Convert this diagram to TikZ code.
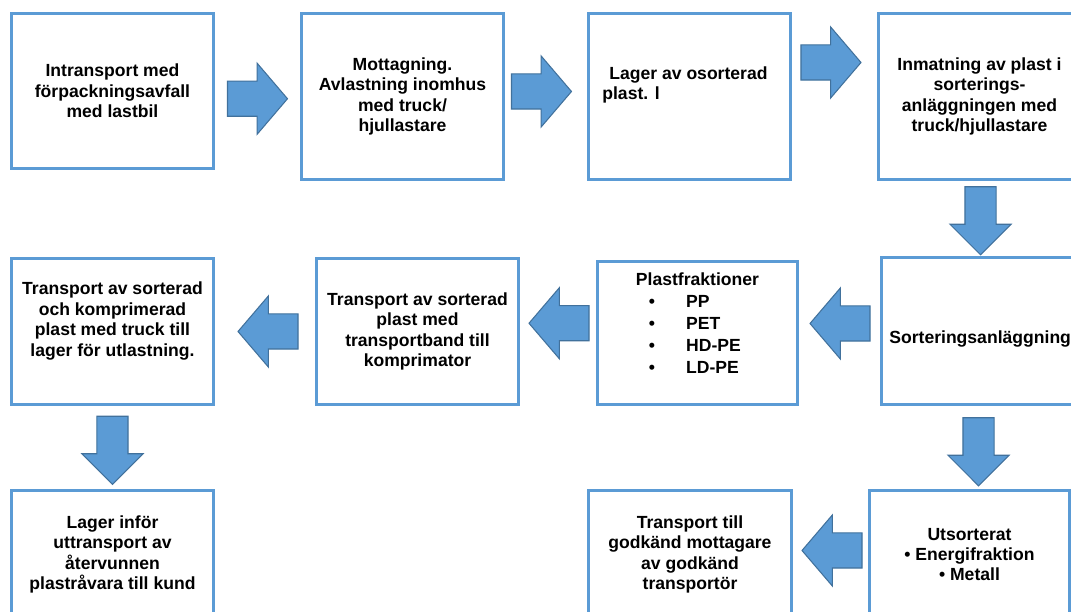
\documentclass[tikz,border=0pt]{standalone}
\usepackage{fontspec}
\setmainfont{Liberation Sans}
\usepackage{tikz}
\usetikzlibrary{positioning}
\usetikzlibrary{calc}
\usetikzlibrary{shapes.arrows}

\definecolor{boxline}{HTML}{5B9BD5}
\definecolor{arrowfill}{HTML}{5B9BD5}
\definecolor{arrowline}{HTML}{41719C}

\tikzset{
    stepbox/.style={draw=boxline, line width=1.7pt, anchor=north west,
        minimum width=4.04cm, align=center,
        font=\fontsize{10}{11.6}\selectfont\bfseries},
    boxtext/.style={inner sep=0pt, font=\fontsize{10}{11.6}\selectfont\bfseries},
    blockarrow/.style={single arrow, draw=arrowline, fill=arrowfill,
        line width=0.6pt, inner xsep=0pt},
    harrow/.style={blockarrow, inner ysep=0.34cm, minimum height=1.2cm,
        single arrow head extend=0.36cm, single arrow tip angle=99},
    varrow/.style={blockarrow, inner ysep=0.3cm, minimum height=1.36cm,
        single arrow head extend=0.3cm, single arrow tip angle=90}
}

\begin{document}
\begin{tikzpicture}
    \useasboundingbox (0,0) rectangle (21.42,-12.24);
    \fill[white] (0,0) rectangle (21.42,-12.24);

    % first row
    \node[stepbox, minimum height=3.1cm] (b1) at (0.2,-0.24)
    {Intransport med\\förpackningsavfall\\med lastbil};
    \node[stepbox, minimum height=3.32cm] (b2) at (6.0,-0.24)
    {Mottagning.\\Avlastning inomhus\\med truck/\\hjullastare};
    \node[stepbox, minimum height=3.32cm] (b3) at (11.74,-0.24) {};
    \node[boxtext, anchor=north west, align=left] (b3txt)
        at ($(b3.north west) + (0.3,-1.08)$)
    {\hspace*{0.14cm}Lager av osorterad\\plast. l};
    \node[stepbox, minimum height=3.32cm] (b4) at (17.54,-0.24)
    {Inmatning av plast i\\sorterings-\\anläggningen med\\truck/hjullastare};

    % second row
    \node[stepbox, minimum height=2.92cm] (b5) at (0.2,-5.14) {};
    \node[boxtext, align=center] (b5txt) at ($(b5.center) + (0,0.21)$)
    {Transport av sorterad\\och komprimerad\\plast med truck till\\lager för utlastning.};
    \node[stepbox, minimum height=2.92cm] (b6) at (6.3,-5.14)
    {Transport av sorterad\\plast med\\transportband till\\komprimator};
    \node[stepbox, minimum width=4.0cm, minimum height=2.86cm] (b7) at (11.92,-5.2) {};
    \node[boxtext, anchor=north] (b7txt) at ($(b7.north) + (0,-0.2)$)
    {\renewcommand{\arraystretch}{1.08}%
     \begin{tabular}{@{\hspace{0.26cm}}l@{\hspace{0.62cm}}l@{}}
        \multicolumn{2}{@{}c@{}}{Plastfraktioner}\\
        \textbullet & PP\\
        \textbullet & PET\\
        \textbullet & HD-PE\\
        \textbullet & LD-PE
     \end{tabular}};
    \node[stepbox, minimum width=4.0cm, minimum height=2.94cm] (b8) at (17.6,-5.12) {};
    \node[boxtext, anchor=west] (b8txt) at ($(b8.west) + (0.18,-0.15)$)
    {Sorteringsanläggning};

    % third row
    \node[stepbox, minimum height=2.56cm] (b9) at (0.2,-9.78)
    {Lager inför\\uttransport av\\återvunnen\\plastråvara till kund};
    \node[stepbox, minimum width=4.06cm, minimum height=2.56cm] (b10) at (11.74,-9.78)
    {Transport till\\godkänd mottagare\\av godkänd\\transportör};
    \node[stepbox, minimum width=4.0cm, minimum height=2.56cm] (b11) at (17.36,-9.78)
    {Utsorterat\\\textbullet{} Energifraktion\\\textbullet{} Metall};

    % arrows
    \node[harrow] (a1) at ($(b1.east)!0.5!(b2.west) + (-0.15,-0.1)$) {};
    \node[harrow] (a2) at ($(b2.east)!0.5!(b3.west) + (-0.24,0.1)$) {};
    \node[harrow] (a3) at ($(b3.east)!0.5!(b4.west) + (-0.22,0.68)$) {};
    \node[varrow, rotate=-90] (a4) at ($(b4.south)!0.5!(b8.north) + (0,0.11)$) {};
    \node[harrow, rotate=180] (a5) at ($(b8.west)!0.5!(b7.east) + (0.16,0.17)$) {};
    \node[harrow, rotate=180] (a6) at ($(b7.west)!0.5!(b6.east) + (0.17,0.18)$) {};
    \node[harrow, rotate=180] (a7) at ($(b6.west)!0.5!(b5.east) + (0.21,0)$) {};
    \node[varrow, rotate=-90] (a8) at ($(b8.south)!0.5!(b11.north) + (0.06,0.07)$) {};
    \node[varrow, rotate=-90] (a9) at ($(b5.south)!0.5!(b9.north) + (0,0.1)$) {};
    \node[harrow, rotate=180] (a10) at ($(b11.west)!0.5!(b10.east) + (0.18,0.08)$) {};
\end{tikzpicture}
\end{document}
